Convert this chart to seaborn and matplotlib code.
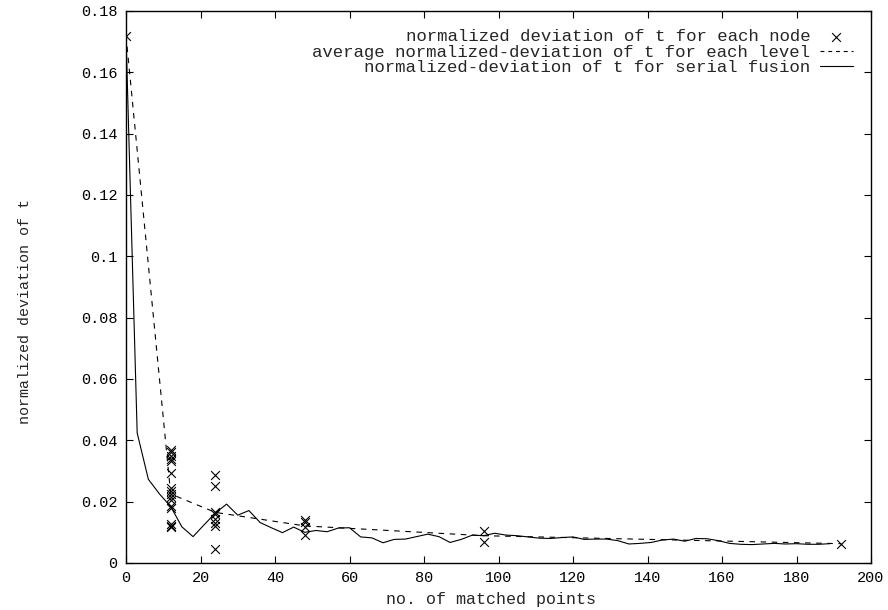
import numpy as np
import pandas as pd
import seaborn as sns
import matplotlib
matplotlib.use('Agg')
import matplotlib.pyplot as plt

# per-node deviation (x = matched points of the node)
node_x = [0] + [12] * 16 + [24] * 8 + [48] * 4 + [96] * 2 + [192]
node_y = [0.172,
          0.0370, 0.0362, 0.0350, 0.0340, 0.0332, 0.0295, 0.0245, 0.0236,
          0.0226, 0.0215, 0.0205, 0.0185, 0.0178, 0.0128, 0.0122, 0.0118,
          0.0287, 0.0252, 0.0166, 0.0160, 0.0145, 0.0132, 0.0120, 0.0045,
          0.0140, 0.0134, 0.0118, 0.0090,
          0.0105, 0.0067,
          0.0063]

# average per level
level_x = [0, 12, 24, 48, 96, 192]
level_y = [0.172, 0.0225, 0.0165, 0.0121, 0.0089, 0.0063]

# serial fusion, one value every 3 matched points
serial_y = [0.172, 0.0424, 0.0273, 0.0225, 0.0184, 0.0118, 0.0086, 0.0125,
            0.0163, 0.0192, 0.0156, 0.0171, 0.0132, 0.0115, 0.0099, 0.0117,
            0.0100, 0.0106, 0.0102, 0.0114, 0.0115, 0.0085, 0.0082, 0.0066,
            0.0077, 0.0078, 0.0086, 0.0094, 0.0086, 0.0067, 0.0077, 0.0091,
            0.0089, 0.0097, 0.0091, 0.0089, 0.0085, 0.0081, 0.0080, 0.0083,
            0.0085, 0.0077, 0.0078, 0.0078, 0.0073, 0.0062, 0.0064, 0.0067,
            0.0075, 0.0078, 0.0071, 0.0080, 0.0079, 0.0073, 0.0064, 0.0061,
            0.0060, 0.0062, 0.0064, 0.0062, 0.0063, 0.0061, 0.0061, 0.0063]
serial_x = list(range(0, 3 * len(serial_y), 3))

sns.set_style('ticks')
plt.rcParams['font.family'] = ['Liberation Mono', 'DejaVu Sans Mono']
plt.rcParams['font.size'] = 11

fig = plt.figure(figsize=(8.88, 6.10), dpi=100)
ax = fig.add_axes([126 / 888, 1 - 563 / 610, 745 / 888, 552 / 610])

sns.scatterplot(x=node_x, y=node_y, ax=ax, marker='x', color='black',
                s=40, linewidth=0.8, label='normalized deviation of t for each node')
sns.lineplot(x=level_x, y=level_y, ax=ax, color='black', lw=0.8,
             linestyle=(0, (5, 5)), estimator=None, sort=False,
             label='average normalized-deviation of t for each level')
sns.lineplot(x=serial_x, y=serial_y, ax=ax, color='black', lw=0.8,
             estimator=None, sort=False,
             label='normalized-deviation of t for serial fusion')

ax.set_xlim(0, 200)
ax.set_ylim(0, 0.18)
ax.set_xticks(np.arange(0, 201, 20))
ax.set_yticks(np.arange(0, 0.181, 0.02))
ax.set_yticklabels(['0'] + ['%g' % v for v in np.arange(0.02, 0.181, 0.02)])
ax.tick_params(direction='in', length=5, width=0.8, top=True, right=True,
               labelsize=11, colors='black', pad=6)
for sp in ax.spines.values():
    sp.set_linewidth(1.0)
    sp.set_color('black')

ax.set_xlabel('no. of matched points', fontsize=12, labelpad=4)
ax.xaxis.set_label_coords(0.49, -0.052)
ax.set_ylabel('normalized deviation of t', fontsize=10.8)
ax.yaxis.set_label_coords(-0.126, 0.455)

leg = ax.legend(loc='upper right', frameon=False, markerfirst=False, fontsize=12.5,
                handlelength=1.9, handletextpad=0.55, labelspacing=0.02,
                borderaxespad=0.65)
for h in leg.legend_handles:
    if hasattr(h, 'set_linestyle') and h.get_label().startswith('average'):
        h.set_linestyle((0, (3.5, 3.5)))

fig.savefig('out.png', dpi=100)
